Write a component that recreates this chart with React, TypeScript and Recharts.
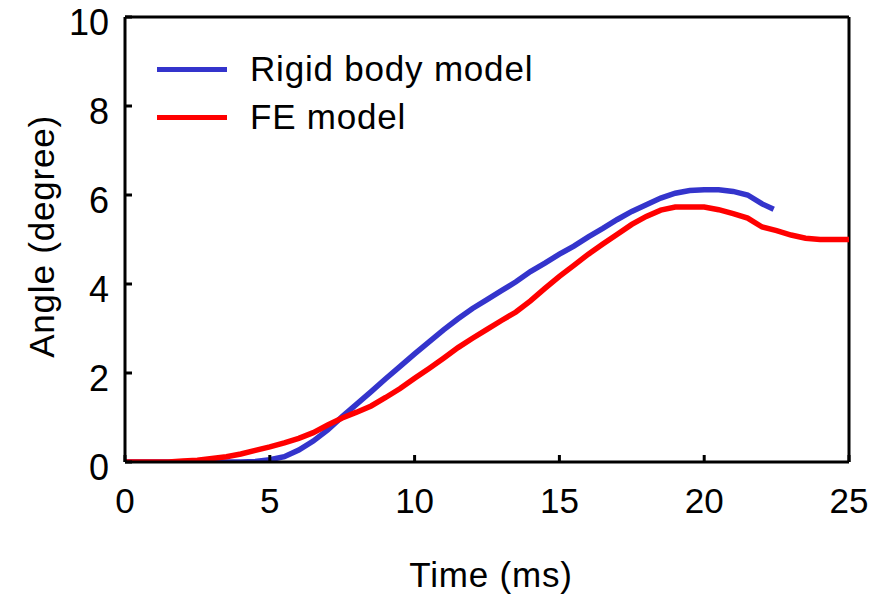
import React from 'react';
import { LineChart, Line, XAxis, YAxis, ReferenceLine, Legend } from 'recharts';

const FONT = '"Liberation Sans", Arial, Helvetica, sans-serif';

const xTicks = [0, 5, 10, 15, 20, 25];
const yTicks = [0, 2, 4, 6, 8, 10];

const rigidTime = [0, 1, 2, 3, 4, 4.5, 5, 5.5, 6, 6.5, 7, 7.5, 8, 8.5, 9, 9.5, 10, 10.5, 11, 11.5, 12, 12.5, 13, 13.5, 14, 14.5, 15, 15.5, 16, 16.5, 17, 17.5, 18, 18.5, 19, 19.5, 20, 20.5, 21, 21.5, 22, 22.4];
const rigidAngle = [0, 0, 0, 0, 0, 0.01, 0.05, 0.12, 0.27, 0.47, 0.72, 1.02, 1.3, 1.58, 1.87, 2.15, 2.43, 2.7, 2.97, 3.22, 3.45, 3.65, 3.85, 4.05, 4.28, 4.47, 4.67, 4.85, 5.06, 5.25, 5.45, 5.63, 5.78, 5.93, 6.04, 6.1, 6.12, 6.12, 6.08, 6.0, 5.8, 5.68];

const feTime = [0, 1, 1.5, 2, 2.5, 3, 3.5, 4, 4.5, 5, 5.5, 6, 6.5, 7, 7.5, 8, 8.5, 9, 9.5, 10, 10.5, 11, 11.5, 12, 12.5, 13, 13.5, 14, 14.5, 15, 15.5, 16, 16.5, 17, 17.5, 18, 18.5, 19, 19.5, 20, 20.5, 21, 21.5, 22, 22.5, 23, 23.5, 24, 24.5, 25];
const feAngle = [0, 0, 0, 0.02, 0.04, 0.08, 0.12, 0.18, 0.26, 0.34, 0.43, 0.53, 0.66, 0.83, 0.99, 1.12, 1.26, 1.45, 1.65, 1.88, 2.1, 2.33, 2.57, 2.78, 2.98, 3.18, 3.37, 3.62, 3.9, 4.17, 4.42, 4.67, 4.9, 5.12, 5.34, 5.52, 5.66, 5.73, 5.73, 5.73, 5.67, 5.58, 5.48, 5.28, 5.2, 5.1, 5.03, 5.0, 5.0, 5.0];

const seriesNames = ['Rigid body model', 'FE model'];
const seriesColors = ['#3434CC', '#FF0000'];

const rigidData = rigidTime.map((t, i) => ({ t, v: rigidAngle[i] }));
const feData = feTime.map((t, i) => ({ t, v: feAngle[i] }));

const XTick = (props: any) => {
  const { x, y, payload } = props;
  return (
    <g>
      <line x1={x} y1={y} x2={x} y2={y - 7} stroke="#000" strokeWidth={3} />
      <text x={x} y={y + 51} textAnchor="middle" fontSize={35} fontFamily={FONT} fill="#000">
        {payload.value}
      </text>
    </g>
  );
};

const YTick = (props: any) => {
  const { x, y, payload } = props;
  return (
    <g>
      <line x1={x} y1={y} x2={x + 7} y2={y} stroke="#000" strokeWidth={3} />
      <text x={x - 16} y={y + 18} textAnchor="end" fontSize={36} fontFamily={FONT} fill="#000">
        {payload.value}
      </text>
    </g>
  );
};

const LegendContent = () => (
  <div style={{ fontFamily: FONT }}>
    {seriesNames.map((n, i) => (
      <div key={n} style={{ display: 'flex', alignItems: 'center', height: 48 }}>
        <div style={{ width: 70, height: 5, background: seriesColors[i], marginRight: 23 }} />
        <span style={{ fontSize: 35, letterSpacing: 0.8, color: '#000', lineHeight: '48px' }}>{n}</span>
      </div>
    ))}
  </div>
);

export default function App() {
  return (
    <div style={{ position: 'absolute', left: 0, top: 0, background: '#fff' }}>
      <LineChart width={888} height={596} margin={{ top: 17, right: 39, bottom: 74, left: 65 }}>
        <XAxis
          type="number"
          dataKey="t"
          domain={[0, 25]}
          ticks={xTicks}
          allowDataOverflow
          tickSize={0}
          tickMargin={0}
          tickLine={false}
          tick={<XTick />}
          axisLine={{ stroke: '#000', strokeWidth: 3 }}
          height={60}
          label={{
            content: (p: any) => {
              const vb = p.viewBox;
              return (
                <text x={vb.x + vb.width / 2 + 4} y={vb.y + 125} textAnchor="middle" fontSize={35} letterSpacing={0.8} fontFamily={FONT} fill="#000">
                  Time (ms)
                </text>
              );
            },
          }}
        />
        <YAxis
          type="number"
          domain={[0, 10]}
          ticks={yTicks}
          allowDataOverflow
          tickSize={0}
          tickMargin={0}
          tickLine={false}
          tick={<YTick />}
          axisLine={{ stroke: '#000', strokeWidth: 3 }}
          width={60}
          label={{
            content: (p: any) => {
              const vb = p.viewBox;
              const cx = vb.x - 24;
              const cy = vb.y + vb.height / 2 - 3;
              return (
                <text x={cx} y={cy} transform={`rotate(-90 ${cx} ${cy})`} textAnchor="middle" dominantBaseline="central" fontSize={35} letterSpacing={0.8} fontFamily={FONT} fill="#000">
                  Angle (degree)
                </text>
              );
            },
          }}
        />
        <ReferenceLine y={10} stroke="#000" strokeWidth={3} />
        <ReferenceLine x={25} stroke="#000" strokeWidth={3} />
        <Legend
          layout="vertical"
          align="center"
          verticalAlign="middle"
          content={<LegendContent />}
          wrapperStyle={{ left: 157, top: 45, width: 420, height: 100 }}
        />
        <Line data={rigidData} dataKey="v" name={seriesNames[0]} type="linear" stroke={seriesColors[0]} strokeWidth={5.5} dot={false} isAnimationActive={false} />
        <Line data={feData} dataKey="v" name={seriesNames[1]} type="linear" stroke={seriesColors[1]} strokeWidth={5.5} dot={false} isAnimationActive={false} />
      </LineChart>
    </div>
  );
}
